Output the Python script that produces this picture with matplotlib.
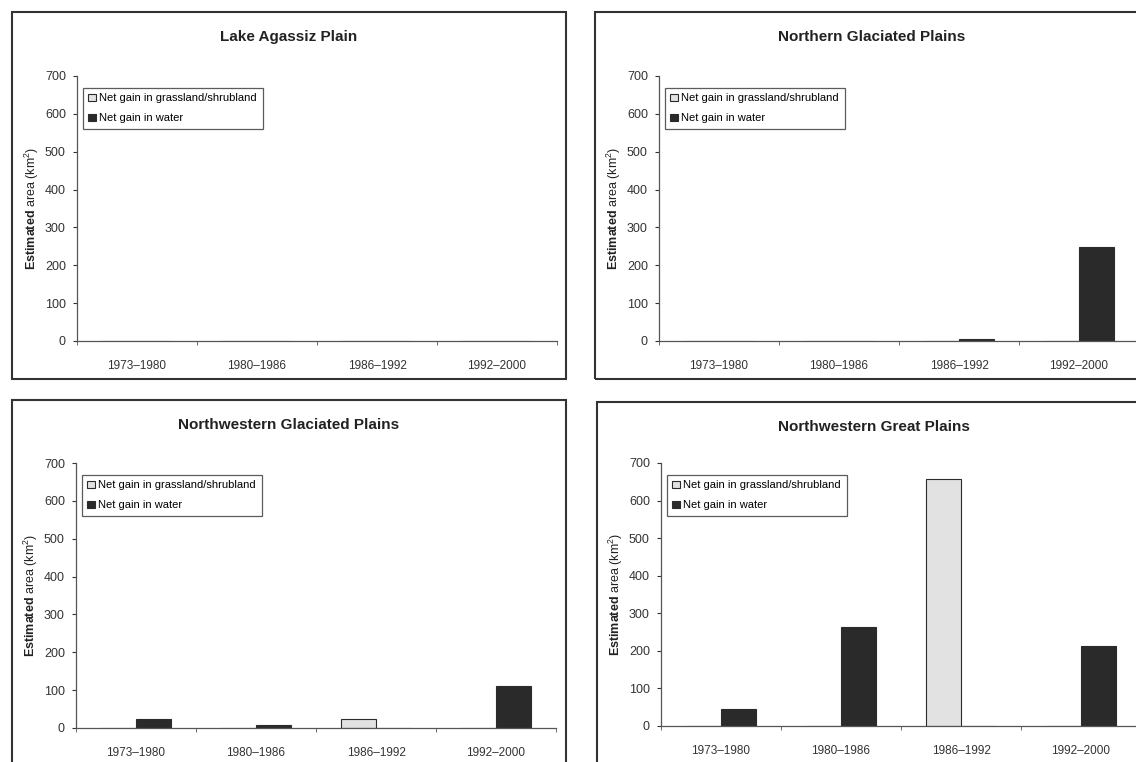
import numpy as np
import matplotlib.pyplot as plt
from matplotlib.patches import Rectangle

plt.rcParams['font.family'] = ['Liberation Sans', 'DejaVu Sans']
plt.rcParams['mathtext.fontset'] = 'custom'
plt.rcParams['mathtext.rm'] = 'Liberation Sans'
plt.rcParams['mathtext.bf'] = 'Liberation Sans:bold'

periods = ['1973\u20131980', '1980\u20131986', '1986\u20131992', '1992\u20132000']
regions = ['Lake Agassiz Plain', 'Northern Glaciated Plains',
           'Northwestern Glaciated Plains', 'Northwestern Great Plains']

# net gain (km2) per period
grass_gain = [
    [0, 0, 0, 0],
    [0, 0, 0, 0],
    [0, 0, 24, 0],
    [0, 0, 657, 0],
]
water_gain = [
    [0, 0, 0, 0],
    [0, 0, 4, 248],
    [24, 7, 0, 111],
    [45, 263, 0, 213],
]

W, H = 1136, 762
fig = plt.figure(figsize=(W / 100, H / 100), dpi=100)

# (frame x0, x1, y0, y1), (axes x0, x1, y0, y1) in pixels from top-left
boxes = [
    ((12, 566, 12, 379), (77, 557, 76, 341)),
    ((595, 1149, 12, 379), (659, 1139, 76, 341)),
    ((12, 566, 400, 767), (76, 556, 463, 728)),
    ((597, 1151, 402, 769), (661, 1141, 463, 726)),
]

def px_rect(x0, x1, y0, y1):
    return [x0 / W, 1 - y1 / H, (x1 - x0) / W, (y1 - y0) / H]

x = np.arange(len(periods))
bw = 0.29
edge = '#2b2b2b'

for i, (frame, axbox) in enumerate(boxes):
    fx0, fx1, fy0, fy1 = frame
    fig.patches.append(Rectangle((fx0 / W, 1 - fy1 / H), (fx1 - fx0) / W, (fy1 - fy0) / H,
                                 transform=fig.transFigure, fill=False,
                                 edgecolor='#333333', linewidth=1.5))
    fig.text((fx0 + fx1) / 2 / W, 1 - (fy0 + 25) / H, regions[i],
             ha='center', va='center', fontsize=11, fontweight='bold', color='#222222')

    ax = fig.add_axes(px_rect(*axbox))
    ax.bar(x - bw, grass_gain[i], bw, align='edge', color='#e2e2e2',
           edgecolor=edge, linewidth=0.8, label='Net gain in grassland/shrubland')
    ax.bar(x, water_gain[i], bw, align='edge', color='#2a2a2a',
           edgecolor=edge, linewidth=0.8, label='Net gain in water')

    ax.set_xlim(-0.5, 3.5)
    ax.set_ylim(0, 700)
    ax.set_yticks(range(0, 701, 100))
    ax.set_xticks(x)
    ax.set_xticklabels(periods)
    ax.set_xticks(np.arange(-0.5, 4, 1), minor=True)
    ax.tick_params(axis='x', which='major', length=0, pad=14, labelsize=8.5, colors='#333333')
    ax.tick_params(axis='x', which='minor', length=3, direction='out', color='#555555')
    ax.tick_params(axis='y', length=3, direction='out', labelsize=9, colors='#333333', pad=5)
    for s in ['top', 'right']:
        ax.spines[s].set_visible(False)
    for s in ['left', 'bottom']:
        ax.spines[s].set_color('#555555')
        ax.spines[s].set_linewidth(0.9)
    ax.set_ylabel(r'$\mathbf{Estimated}$ area (km$^2$)', fontsize=9, color='#222222', labelpad=3)

    leg = ax.legend(loc='upper left', bbox_to_anchor=(0.012, 0.955), fontsize=8,
                    frameon=True, fancybox=False, handlelength=0.7, handleheight=0.7,
                    handletextpad=0.3, borderpad=0.5, labelspacing=0.9, borderaxespad=0)
    leg.get_frame().set_edgecolor('#333333')
    leg.get_frame().set_linewidth(0.9)

fig.savefig('out.png', dpi=100)
